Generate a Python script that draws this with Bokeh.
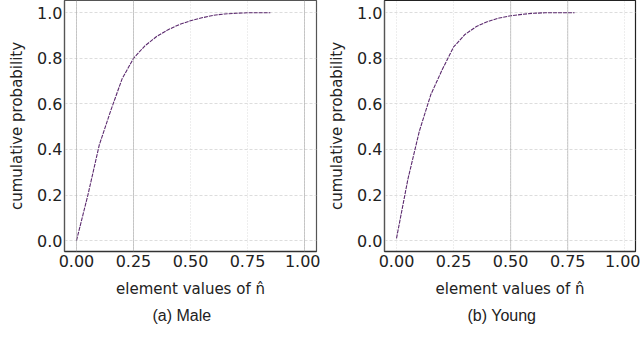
from bokeh.plotting import figure
from bokeh.layouts import row
from bokeh.models import Range1d, Span, Title, FixedTicker
from bokeh.embed import file_html
from bokeh.resources import INLINE

# ---- data ----
male_x = [0.0, 0.05, 0.10, 0.15, 0.20, 0.25, 0.30, 0.35, 0.40, 0.45, 0.50, 0.55, 0.60, 0.65, 0.70, 0.75, 0.80, 0.85]
male_y = [0.0, 0.20, 0.42, 0.57, 0.71, 0.80, 0.855, 0.895, 0.925, 0.948, 0.965, 0.978, 0.989, 0.995, 0.998, 1.0, 1.0, 1.0]

young_x = [0.0, 0.05, 0.10, 0.15, 0.20, 0.25, 0.30, 0.35, 0.40, 0.45, 0.50, 0.55, 0.60, 0.65, 0.70, 0.75, 0.78]
young_y = [0.01, 0.27, 0.48, 0.64, 0.75, 0.85, 0.905, 0.94, 0.962, 0.977, 0.987, 0.993, 0.998, 1.0, 1.0, 1.0, 1.0]

x_ticks = [0.0, 0.25, 0.5, 0.75, 1.0]
x_tick_labels = ["0.00", "0.25", "0.50", "0.75", "1.00"]
y_ticks = [0.0, 0.2, 0.4, 0.6, 0.8, 1.0]
y_tick_labels = ["0.0", "0.2", "0.4", "0.6", "0.8", "1.0"]

male_marks = [0.0, 0.25, 1.0]
young_marks = [0.5, 0.75]

x_label = "element values of n\u0302"
y_label = "cumulative probability"
captions = ["(a) Male", "(b) Young"]

LINE_COLOR = "#5b2a6e"
Y_START, Y_END = -0.048, 1.054


def make_panel(xs, ys, marks, caption, width, border_right, x_end, cap_left, outline_color):
    p = figure(width=width, height=335, output_backend="svg", toolbar_location=None,
               x_range=Range1d(-0.0526, x_end), y_range=Range1d(Y_START, Y_END),
               min_border_left=64, min_border_right=border_right,
               min_border_top=0, min_border_bottom=84)
    p.background_fill_color = "white"
    p.border_fill_color = "white"
    p.outline_line_color = outline_color
    p.outline_line_width = 1.2

    # axes
    p.xaxis.ticker = FixedTicker(ticks=x_ticks)
    p.xaxis.major_label_overrides = {t: l for t, l in zip(x_ticks, x_tick_labels)}
    p.yaxis.ticker = FixedTicker(ticks=y_ticks)
    p.yaxis.major_label_overrides = {t: l for t, l in zip(y_ticks, y_tick_labels)}
    for ax in (p.xaxis, p.yaxis):
        ax.major_tick_out = 0
        ax.major_tick_in = 0
        ax.minor_tick_out = 0
        ax.minor_tick_in = 0
        ax.major_label_text_font = "DejaVu Sans"
        ax.major_label_text_font_size = "16px"
        ax.major_label_text_color = "#222222"
        ax.axis_label_text_font = "DejaVu Sans"
        ax.axis_label_text_font_size = "15px"
        ax.axis_label_text_font_style = "normal"
        ax.axis_label_text_color = "#222222"
    p.xaxis.axis_line_color = "#333333"
    p.xaxis.axis_line_width = 1.5
    p.yaxis.axis_line_color = "#555555"
    p.yaxis.axis_line_width = 1.2
    p.xaxis.major_label_standoff = 3
    p.yaxis.major_label_standoff = 2
    p.xaxis.axis_label = x_label
    p.yaxis.axis_label = y_label
    p.xaxis.axis_label_standoff = 10
    p.yaxis.axis_label_standoff = 8

    # grid
    p.xgrid.ticker = FixedTicker(ticks=x_ticks)
    p.ygrid.ticker = FixedTicker(ticks=y_ticks)
    p.xgrid.grid_line_color = "#dddddd"
    p.xgrid.grid_line_dash = "1 2"
    p.ygrid.grid_line_color = "#dddddd"
    p.ygrid.grid_line_dash = "3 2"

    for m in marks:
        p.add_layout(Span(location=m, dimension="height", line_color="#9a9a9a",
                          line_dash="1 1", line_width=1))

    p.line(xs, ys, line_color=LINE_COLOR, line_width=1.1, line_dash="4 1")

    t = Title(text=caption, align="left", text_font="Liberation Sans",
              text_font_size="16px", text_font_style="normal", text_color="#222222",
              offset=cap_left, standoff=8)
    p.add_layout(t, "below")
    return p


p1 = make_panel(male_x, male_y, male_marks, captions[0], 320, 4, 1.0526, 88, "#555555")
p2 = make_panel(young_x, young_y, young_marks, captions[1], 320, 5, 1.0468, 83, "#222222")

layout = row(p1, p2, spacing=0)
open("out.html", "w").write(file_html(layout, INLINE))
